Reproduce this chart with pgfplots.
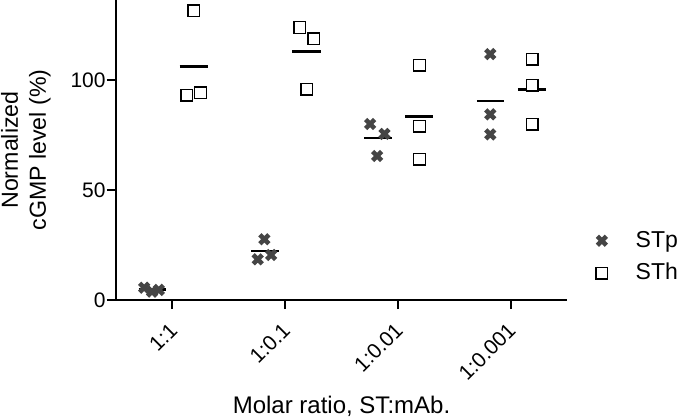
\documentclass[border=0pt]{standalone}
\usepackage{pgfplots}
\pgfplotsset{compat=1.18}
\usepackage{fontspec}
\setmainfont{Liberation Sans}
\definecolor{stp}{HTML}{454545}
\begin{document}
\begin{tikzpicture}
\useasboundingbox (-58pt,-59.5pt) rectangle (282pt,150pt);
\begin{axis}[
 scale only axis, width=225.5pt, height=150pt,
 xmin=-0.5, xmax=3.5, ymin=0, ymax=136.4,
 axis x line*=bottom, axis y line*=left,
 axis line style={line width=1pt, -},
 xtick={0,1,2,3}, xticklabels={1:1,1:0.1,1:0.01,1:0.001},
 ytick={0,50,100},
 tick align=outside, major tick length=4.5pt,
 tick style={line width=1pt, black},
 x tick label style={xshift=-2pt, yshift=-6pt, rotate=45, anchor=north east, inner sep=0pt},
 y tick label style={inner sep=0pt, xshift=-0.5pt},
 tick label style={font=\fontsize{10.5}{12}\selectfont},
 /pgf/number format/assume math mode=true,
 xlabel={Molar ratio, ST:mAb.},
 ylabel={Normalized\\cGMP level (\%)},
 xlabel style={font=\fontsize{12}{14}\selectfont, at={(axis description cs:0.5,-0.3777)}, anchor=base},
 ylabel style={font=\fontsize{11.6}{14}\selectfont, at={(axis description cs:-0.1996,0.5)}, anchor=center, align=center},
 legend style={draw=none, fill=none, at={(axis description cs:1.0504,0.143)}, anchor=west,
   font=\fontsize{11.5}{12}\selectfont, column sep=12pt, row sep=2.5pt},
 clip=false,
]
\addplot[only marks, mark=x, mark size=3.2pt, line width=2.3pt, color=stp]
 coordinates {(-0.25,5.6) (-0.18,3.8) (-0.12,4.6)
  (0.816,27.6) (0.757,18.5) (0.876,20.5)
  (1.754,80.0) (1.881,75.5) (1.816,65.5)
  (2.82,111.8) (2.82,84.4) (2.82,75.3)};
\addlegendentry{STp}
\addplot[only marks, mark=square*, mark size=2.9pt, line width=0.7pt, black, fill=white, mark options={fill=white}]
 coordinates {(0.19,131.4) (0.127,93.2) (0.25,94.2)
  (1.13,123.9) (1.255,118.8) (1.193,95.9)
  (2.192,106.8) (2.192,79.1) (2.192,64.0)
  (3.193,109.5) (3.193,97.7) (3.193,80.0)};
\addlegendentry{STh}
% mean lines
\addplot[forget plot, black, line width=1.3pt] coordinates {(-0.30,4.7) (-0.056,4.7)};
\addplot[forget plot, black, line width=1.3pt] coordinates {(0.70,22.2) (0.944,22.2)};
\addplot[forget plot, black, line width=1.3pt] coordinates {(1.70,73.7) (1.944,73.7)};
\addplot[forget plot, black, line width=1.3pt] coordinates {(2.70,90.5) (2.944,90.5)};
\addplot[forget plot, black, line width=1.3pt] coordinates {(0.065,106.3) (0.314,106.3)};
\addplot[forget plot, black, line width=1.3pt] coordinates {(1.065,112.9) (1.314,112.9)};
\addplot[forget plot, black, line width=1.3pt] coordinates {(2.065,83.3) (2.314,83.3)};
\addplot[forget plot, black, line width=1.3pt] coordinates {(3.065,95.7) (3.314,95.7)};
\end{axis}
\end{tikzpicture}
\end{document}
